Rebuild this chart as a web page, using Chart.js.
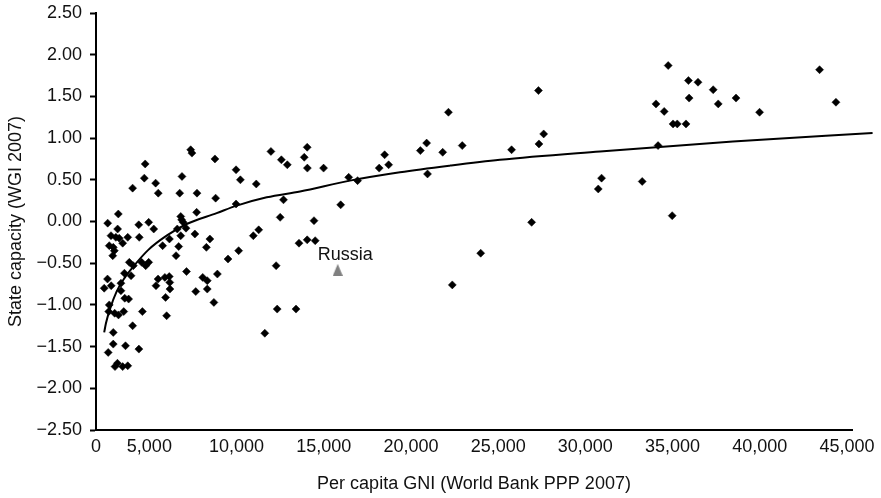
<!DOCTYPE html>
<html>
<head>
<meta charset="utf-8">
<script src="https://cdn.jsdelivr.net/npm/chart.js@4"></script>
<style>
  html, body { margin: 0; padding: 0; background: #fff; }
  #wrap { width: 881px; height: 498px; }
</style>
</head>
<body>
<div id="wrap"><canvas id="chart" width="881" height="498"></canvas></div>
<script>
// Per capita GNI (PPP) of each country
const gniValues = [
  4760, 4710, 4040, 5360, 5510, 3220, 2610, 3180, 4390, 4960,
  5250, 2800, 3080, 3270, 3760, 4420, 3470, 2700, 2930, 5760,
  2990, 2900, 3850, 4080, 4560, 4790, 4960, 3570, 3950, 2600,
  2810, 2410, 3370, 3370, 5500, 5380, 5890, 6140, 6170, 6180,
  3590, 3810, 2700, 2670, 3010, 3230, 3530, 4600, 5930, 4040,
  2930, 2930, 3630, 4400, 2640, 3170, 3030, 3470, 3760, 5990,
  6530, 6680, 7370, 7440, 8760, 6870, 6740, 7730, 8800, 7710,
  6800, 6850, 6940, 6600, 7100, 7610, 6800, 6150, 8470, 8270,
  10120, 9510, 7130, 8060, 8320, 8900, 8320, 7660, 8700, 9970,
  10220, 9970, 11130, 11970, 12570, 12910, 14050, 13880, 14060, 14990,
  12690, 12500, 14440, 15970, 16430, 16940, 18180, 18490, 18720, 20540,
  20900, 20950, 10960, 11270, 12270, 13580, 14050, 14510, 12330, 13410,
  11620, 22150, 21820, 22940, 25770, 27310, 27610, 27340, 26920, 24000,
  22370, 30930, 30740, 33260, 34980, 34170, 34750, 34050, 34520, 35030,
  35270, 35770, 35910, 35950, 36460, 37330, 37620, 38640, 39990, 43430,
  44370
];
// State capacity score (WGI) of the same countries
const wgiValues = [
  0.69, 0.52, 0.40, 0.46, 0.34, 0.09, -0.02, -0.09, -0.04, -0.01,
  -0.09, -0.17, -0.19, -0.20, -0.19, -0.19, -0.26, -0.29, -0.31, -0.29,
  -0.35, -0.41, -0.49, -0.53, -0.49, -0.53, -0.49, -0.62, -0.65, -0.69,
  -0.77, -0.80, -0.74, -0.83, -0.69, -0.77, -0.67, -0.66, -0.73, -0.81,
  -0.92, -0.93, -1.00, -1.08, -1.10, -1.12, -1.08, -1.08, -0.91, -1.25,
  -1.33, -1.47, -1.49, -1.53, -1.57, -1.70, -1.74, -1.74, -1.73, -1.13,
  -0.41, -0.30, 0.86, 0.82, 0.75, 0.54, 0.34, 0.34, 0.28, 0.11,
  0.06, 0.02, -0.01, -0.09, -0.08, -0.15, -0.17, -0.21, -0.21, -0.31,
  -0.35, -0.45, -0.60, -0.67, -0.71, -0.63, -0.81, -0.84, -0.97, 0.62,
  0.50, 0.21, 0.45, 0.84, 0.74, 0.68, 0.89, 0.77, 0.64, 0.64,
  0.26, 0.05, 0.01, 0.20, 0.53, 0.49, 0.64, 0.80, 0.68, 0.85,
  0.94, 0.57, -0.17, -0.10, -0.53, -0.26, -0.22, -0.23, -1.05, -1.05,
  -1.34, 1.31, 0.83, 0.91, 0.86, 1.57, 1.05, 0.93, -0.01, -0.38,
  -0.76, 0.52, 0.39, 0.48, 0.07, 0.91, 1.87, 1.41, 1.32, 1.17,
  1.17, 1.17, 1.69, 1.48, 1.67, 1.58, 1.41, 1.48, 1.31, 1.82,
  1.43
];

// Logarithmic trend curve
const trendGni = [2410, 2510, 2740, 3120, 3600, 4080, 4940, 5990, 7140, 8860,
                  10010, 11730, 13640, 16500, 19370, 22240, 25100, 30840, 38460, 46470];
const trendWgi = [-1.33, -1.22, -1.05, -0.84, -0.67, -0.54, -0.34, -0.17, -0.03, 0.10,
                  0.19, 0.29, 0.36, 0.49, 0.59, 0.67, 0.74, 0.84, 0.96, 1.06];

// Highlighted country
const russiaName = 'Russia';
const russiaGni = 15800;
const russiaWgi = -0.58;

// Axis ticks
const xTickValues = [0, 5000, 10000, 15000, 20000, 25000, 30000, 35000, 40000, 45000];
const xTickLabels = ['0', '5,000', '10,000', '15,000', '20,000', '25,000', '30,000', '35,000', '40,000', '45,000'];
const yTickValues = [-2.5, -2.0, -1.5, -1.0, -0.5, 0.0, 0.5, 1.0, 1.5, 2.0, 2.5];
const X_MIN = 1940, X_MAX = 45290;

const FONT = "'Liberation Sans', Arial, Helvetica, sans-serif";
const TEXT = '#111';

const countryPoints = gniValues.map((g, i) => ({ x: g, y: wgiValues[i] }));
const trendPoints = trendGni.map((g, i) => ({ x: g, y: trendWgi[i] }));

// Grey upward triangle used as the marker of the highlighted country
function triangleMarker(w, h, color) {
  const c = document.createElement('canvas');
  c.width = w;
  c.height = h;
  const g = c.getContext('2d');
  g.fillStyle = color;
  g.beginPath();
  g.moveTo(w / 2, 0);
  g.lineTo(w, h);
  g.lineTo(0, h);
  g.closePath();
  g.fill();
  return c;
}

// Draws the country name next to the highlighted marker
const russiaLabel = {
  id: 'russiaLabel',
  afterDatasetsDraw(chart) {
    const meta = chart.getDatasetMeta(2);
    const pt = meta.data[0];
    if (!pt) return;
    const ctx = chart.ctx;
    ctx.save();
    ctx.font = '18px ' + FONT;
    ctx.fillStyle = TEXT;
    ctx.textAlign = 'center';
    ctx.textBaseline = 'alphabetic';
    ctx.fillText(russiaName, pt.x + 7.5, pt.y - 10.3);
    ctx.restore();
  }
};

Chart.defaults.font.family = FONT;
Chart.defaults.font.size = 18;
Chart.defaults.color = TEXT;

new Chart(document.getElementById('chart'), {
  type: 'scatter',
  data: {
    datasets: [
      {
        label: 'Countries',
        data: countryPoints,
        pointStyle: 'rectRot',
        pointRadius: 4,
        pointBackgroundColor: '#000',
        pointBorderColor: '#000',
        pointBorderWidth: 0.5,
        order: 2
      },
      {
        label: 'Trend',
        data: trendPoints,
        showLine: true,
        pointRadius: 0,
        borderColor: '#000',
        borderWidth: 2,
        cubicInterpolationMode: 'monotone',
        clip: false,
        order: 1
      },
      {
        label: russiaName,
        data: [{ x: russiaGni, y: russiaWgi }],
        pointStyle: triangleMarker(10, 12, '#808080'),
        pointRadius: 6,
        order: 0
      }
    ]
  },
  options: {
    responsive: false,
    animation: false,
    devicePixelRatio: 1,
    layout: { padding: { left: 0, top: 13, right: 29, bottom: 0 } },
    plugins: {
      legend: { display: false },
      tooltip: { enabled: false }
    },
    scales: {
      x: {
        type: 'linear',
        min: X_MIN,
        max: X_MAX,
        afterBuildTicks(scale) {
          // the "0" label sits at the axis origin
          scale.ticks = xTickValues.map(v => ({ value: Math.max(v, scale.min) }));
        },
        afterFit(scale) {
          scale.height = 68;
          scale.paddingLeft = 0;
          scale.paddingRight = 0;
        },
        grid: { display: false },
        border: { display: true, color: '#000', width: 2 },
        ticks: {
          autoSkip: false,
          maxRotation: 0,
          padding: -2,
          color: TEXT,
          font: { size: 18 },
          callback: (value, index) => xTickLabels[index]
        },
        title: {
          display: true,
          text: 'Per capita GNI (World Bank PPP 2007)',
          color: TEXT,
          font: { size: 18 },
          padding: { top: 0, bottom: 3 }
        }
      },
      y: {
        type: 'linear',
        min: -2.5,
        max: 2.5,
        afterBuildTicks(scale) {
          scale.ticks = yTickValues.map(v => ({ value: v }));
        },
        afterFit(scale) {
          scale.width = 96;
          scale.paddingTop = 0;
          scale.paddingBottom = 0;
        },
        grid: {
          display: true,
          drawOnChartArea: false,
          drawTicks: true,
          tickLength: 6,
          tickColor: '#000',
          tickWidth: 2
        },
        border: { display: true, color: '#000', width: 2 },
        ticks: {
          autoSkip: false,
          padding: 8,
          color: TEXT,
          font: { size: 18 },
          callback: v => (v < 0 ? '\u2212' : '') + Math.abs(v).toFixed(2)
        },
        title: {
          display: true,
          text: 'State capacity (WGI 2007)',
          color: TEXT,
          font: { size: 18 },
          padding: { top: 5.5, bottom: 0 }
        }
      }
    }
  },
  plugins: [russiaLabel]
});
</script>
</body>
</html>
